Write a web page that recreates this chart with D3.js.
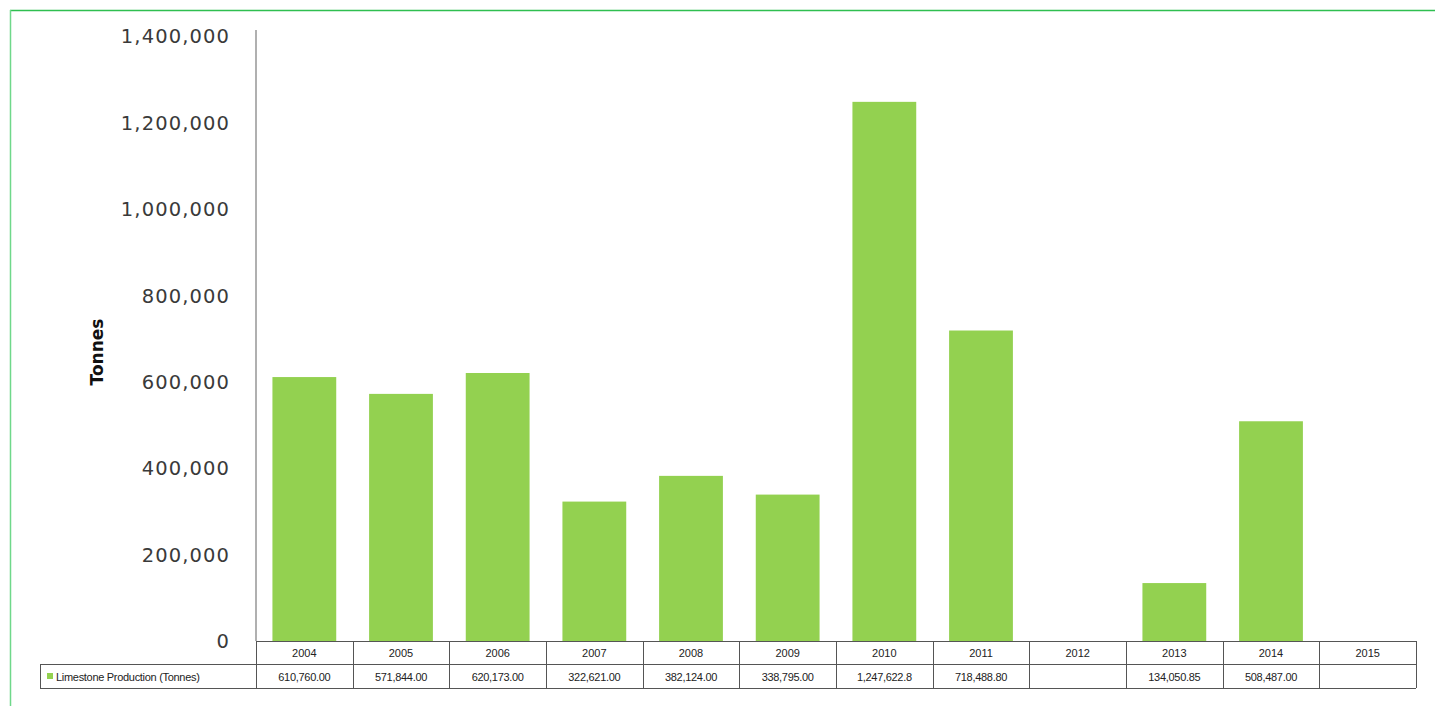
<!DOCTYPE html>
<html>
<head>
<meta charset="utf-8">
<script src="https://cdn.jsdelivr.net/npm/d3@7/dist/d3.min.js"></script>
<style>
  html, body { margin: 0; padding: 0; background: #fff; }
  svg { display: block; }
</style>
</head>
<body>
<svg id="chart" width="1435" height="706"></svg>
<script>
// Limestone production by year (tonnes)
const years = ["2004", "2005", "2006", "2007", "2008", "2009", "2010", "2011", "2012", "2013", "2014", "2015"];
const production = [610760, 571844, 620173, 322621, 382124, 338795, 1247622.8, 718488.8, null, 134050.85, 508487, null];
const tableLabels = ["610,760.00", "571,844.00", "620,173.00", "322,621.00", "382,124.00", "338,795.00",
                     "1,247,622.8", "718,488.80", "", "134,050.85", "508,487.00", ""];
const yTicks = [0, 200000, 400000, 600000, 800000, 1000000, 1200000, 1400000];
const seriesName = "Limestone Production (Tonnes)";
const axisTitle = "Tonnes";

const svg = d3.select("#chart");
const W = 1435, H = 706;
const barColor = "#93d150";

// frame around the figure
svg.append("line").attr("x1", 10).attr("x2", W).attr("y1", 10.5).attr("y2", 10.5)
  .attr("stroke", "#2fbf50").attr("stroke-width", 1.5);
svg.append("line").attr("x1", 10.5).attr("x2", 10.5).attr("y1", 10).attr("y2", H)
  .attr("stroke", "#6fd88a").attr("stroke-width", 1.5);

const plot = { left: 256, right: 1416, top: 36, bottom: 641 };

const x = d3.scaleBand().domain(years).range([plot.left, plot.right]).paddingInner(0.34).paddingOuter(0.17);
const xCol = d3.scaleBand().domain(years).range([plot.left, plot.right]);
const y = d3.scaleLinear().domain([0, 1400000]).range([plot.bottom, plot.top]);

// bars
svg.append("g").selectAll("rect")
  .data(years.map((yr, i) => ({ yr, v: production[i] })).filter(d => d.v != null))
  .join("rect")
  .attr("x", d => x(d.yr))
  .attr("width", x.bandwidth())
  .attr("y", d => y(d.v))
  .attr("height", d => y(0) - y(d.v))
  .attr("fill", barColor);

// value axis
const yAxis = d3.axisLeft(y).tickValues(yTicks).tickFormat(d3.format(",")).tickSize(0).tickPadding(26);
const gy = svg.append("g").attr("transform", `translate(${plot.left},0)`).call(yAxis);
gy.select(".domain").attr("stroke", "#b0b0b0").attr("stroke-width", 2)
  .attr("d", `M0,${plot.top - 6}V${plot.bottom}`);
gy.selectAll("text")
  .attr("font-family", "'DejaVu Sans', sans-serif")
  .attr("font-size", 19.5)
  .attr("letter-spacing", 1.1)
  .attr("fill", "#3a3a3a")
  .attr("dy", "0.35em");

svg.append("text")
  .attr("transform", `translate(103,352) rotate(-90)`)
  .attr("text-anchor", "middle")
  .attr("font-family", "'DejaVu Sans', sans-serif")
  .attr("font-weight", "bold")
  .attr("font-size", 17)
  .attr("fill", "#111")
  .text(axisTitle);

// data table below the plot
const rowTop = plot.bottom, rowMid = 664, rowBot = 688, legendLeft = 40;
const tbl = svg.append("g").attr("stroke", "#555").attr("stroke-width", 1).attr("fill", "none");
tbl.append("line").attr("x1", plot.left).attr("x2", plot.right).attr("y1", rowTop + 0.5).attr("y2", rowTop + 0.5);
tbl.append("line").attr("x1", legendLeft).attr("x2", plot.right).attr("y1", rowMid + 0.5).attr("y2", rowMid + 0.5);
tbl.append("line").attr("x1", legendLeft).attr("x2", plot.right).attr("y1", rowBot + 0.5).attr("y2", rowBot + 0.5);
tbl.append("line").attr("x1", legendLeft + 0.5).attr("x2", legendLeft + 0.5).attr("y1", rowMid).attr("y2", rowBot);
tbl.selectAll("line.col")
  .data(years.concat(["end"]))
  .join("line")
  .attr("class", "col")
  .attr("x1", d => Math.round(d === "end" ? plot.right : xCol(d)) + 0.5)
  .attr("x2", d => Math.round(d === "end" ? plot.right : xCol(d)) + 0.5)
  .attr("y1", rowTop).attr("y2", rowBot);

const cellFont = "'Liberation Sans', Arial, sans-serif";
svg.append("g").selectAll("text")
  .data(years)
  .join("text")
  .attr("x", d => xCol(d) + xCol.bandwidth() / 2)
  .attr("y", (rowTop + rowMid) / 2 + 1)
  .attr("dy", "0.35em")
  .attr("text-anchor", "middle")
  .attr("font-family", cellFont)
  .attr("font-size", 11)
  .attr("fill", "#222")
  .text(d => d);

svg.append("g").selectAll("text")
  .data(years.map((yr, i) => ({ yr, t: tableLabels[i] })))
  .join("text")
  .attr("x", d => xCol(d.yr) + xCol.bandwidth() / 2)
  .attr("y", (rowMid + rowBot) / 2 + 1)
  .attr("dy", "0.35em")
  .attr("text-anchor", "middle")
  .attr("font-family", cellFont)
  .attr("font-size", 11)
  .attr("letter-spacing", -0.3)
  .attr("fill", "#222")
  .text(d => d.t);

// legend key inside the table
svg.append("rect").attr("x", 47).attr("y", 673).attr("width", 6).attr("height", 6).attr("fill", barColor);
svg.append("text")
  .attr("x", 56).attr("y", (rowMid + rowBot) / 2 + 1).attr("dy", "0.35em")
  .attr("font-family", cellFont).attr("font-size", 11).attr("letter-spacing", -0.3)
  .attr("fill", "#222")
  .text(seriesName);
</script>
</body>
</html>
